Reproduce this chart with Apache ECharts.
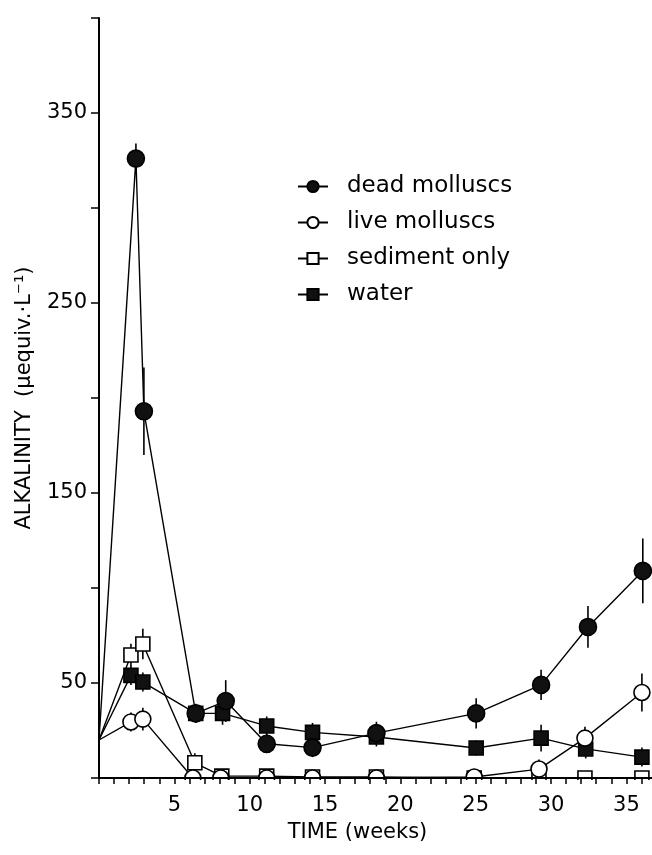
<!DOCTYPE html>
<html>
<head>
<meta charset="utf-8">
<script src="https://cdn.jsdelivr.net/npm/echarts@6/dist/echarts.min.js"></script>
<style>
html,body{margin:0;padding:0;background:#fff;}
#chart{width:652px;height:855px;}
</style>
</head>
<body>
<div id="chart"></div>
<script>
// ---- data (weeks, alkalinity µequiv/L, ± error) ----
const deadWeeks  = [0, 2.45, 2.98, 6.42, 8.41, 11.13, 14.17, 18.41, 25.03, 29.34, 32.45, 36.09];
const deadVals   = [20, 326, 193, 34, 40.5, 18, 16, 23.6, 34, 49, 79.5, 109];
const deadErr    = [0, 8, 23, 5, 11, 5, 5, 6, 8, 8, 11, 17];

const liveWeeks  = [0, 2.12, 2.91, 6.23, 8.08, 11.13, 14.17, 18.41, 24.9, 29.2, 32.25, 36.03];
const liveVals   = [20, 29.5, 31, 0, 0, 0, 0, 0, 0.5, 4.7, 21, 45];
const liveErr    = [0, 5, 6, 0, 0, 0, 0, 0, 0, 5, 6, 10];

const sedWeeks   = [0, 2.12, 2.91, 6.36, 8.15, 11.13, 14.17, 18.41, 24.9, 29.2, 32.25, 36.03];
const sedVals    = [20, 64.7, 70.5, 8, 1, 1, 0.5, 0.5, 0, 0, 0, 0];
const sedErr     = [0, 6, 8, 5, 0, 0, 0, 0, 0, 0, 0, 0];

const waterWeeks = [0, 2.12, 2.91, 6.42, 8.2, 11.13, 14.17, 18.41, 25.03, 29.34, 32.3, 36.03];
const waterVals  = [20, 54, 50.5, 34, 34, 27.4, 24, 21.6, 15.8, 21, 15.3, 11];
const waterErr   = [0, 5, 5, 5, 6, 5, 5, 5, 4, 7, 5, 5];

const seriesNames = ['dead molluscs', 'live molluscs', 'sediment only', 'water'];
const xTickLabels = [5, 10, 15, 20, 25, 30, 35];
const yTickLabels = [50, 150, 250, 350];

// ---- build ----
const FONT = 'DejaVu Sans';
// the common starting value at week 0 is drawn as a line start only (no marker)
function pts(w, v) {
  return w.map((x, i) => (x === 0 ? { value: [x, v[i]], symbol: 'none' } : [x, v[i]]));
}
function errPts(w, v, e) { return w.map((x, i) => [x, v[i] - e[i], v[i] + e[i]]).filter((d, i) => e[i] > 0); }

function errSeries(data) {
  return {
    type: 'custom',
    z: 1,
    silent: true,
    data: data,
    encode: { x: 0, y: [1, 2] },
    renderItem: function (params, api) {
      const lo = api.coord([api.value(0), api.value(1)]);
      const hi = api.coord([api.value(0), api.value(2)]);
      return {
        type: 'line',
        shape: { x1: lo[0], y1: lo[1], x2: hi[0], y2: hi[1] },
        style: { stroke: '#000', lineWidth: 1.6 }
      };
    }
  };
}

function lineSeries(name, data, symbol, size, fill) {
  return {
    name: name,
    type: 'line',
    data: data,
    symbol: symbol,
    symbolSize: size,
    showAllSymbol: true,
    z: 3,
    lineStyle: { color: '#000', width: 1.4 },
    itemStyle: { color: fill, borderColor: '#000', borderWidth: 1.6 },
    emphasis: { disabled: true },
    animation: false
  };
}

const chart = echarts.init(document.getElementById('chart'), null, { renderer: 'canvas' });
chart.setOption({
  animation: false,
  backgroundColor: '#fff',
  grid: { left: 99, right: 0, top: 18, bottom: 77, containLabel: false },
  xAxis: {
    type: 'value', min: 0, max: 36.7, interval: 1, z: 10,
    name: 'TIME (weeks)', nameLocation: 'middle', nameGap: 44,
    nameTextStyle: { fontFamily: FONT, fontSize: 21, color: '#000', padding: [0, 36, 0, 0] },
    axisLine: { show: true, onZero: false, lineStyle: { color: '#000', width: 2 } },
    axisTick: { show: true, length: 6, lineStyle: { color: '#000', width: 1.5 } },
    axisLabel: {
      fontFamily: FONT, fontSize: 21, color: '#000', margin: 17, showMaxLabel: false,
      formatter: v => (xTickLabels.indexOf(v) >= 0 ? String(v) : '')
    },
    splitLine: { show: false }
  },
  yAxis: {
    type: 'value', min: 0, max: 400, interval: 50, z: 10,
    name: 'ALKALINITY  (µequiv.·L⁻¹)', nameLocation: 'middle', nameGap: 64, nameRotate: 90,
    nameTextStyle: { fontFamily: FONT, fontSize: 21, color: '#000' },
    axisLine: { show: true, onZero: false, lineStyle: { color: '#000', width: 2 } },
    axisTick: { show: true, length: 8, lineStyle: { color: '#000', width: 1.5 } },
    axisLabel: {
      fontFamily: FONT, fontSize: 21, color: '#000', margin: 12,
      formatter: v => (yTickLabels.indexOf(v) >= 0 ? String(v) : '')
    },
    splitLine: { show: false }
  },
  legend: {
    orient: 'vertical', left: 292, top: 170, itemGap: 13, itemWidth: 30, itemHeight: 14,
    data: seriesNames,
    textStyle: { fontFamily: FONT, fontSize: 23, color: '#000', padding: [0, 0, 0, 14] },
    selectedMode: false
  },
  graphic: [{
    type: 'rect', z: 5, silent: true,
    shape: { x: 100, y: 780, width: 560, height: 14 },
    style: { fill: '#fff' }
  }],
  series: [
    errSeries(errPts(deadWeeks, deadVals, deadErr)),
    errSeries(errPts(liveWeeks, liveVals, liveErr)),
    errSeries(errPts(sedWeeks, sedVals, sedErr)),
    errSeries(errPts(waterWeeks, waterVals, waterErr)),
    lineSeries(seriesNames[3], pts(waterWeeks, waterVals), 'rect', 14, '#111'),
    lineSeries(seriesNames[2], pts(sedWeeks, sedVals), 'rect', 14, '#fff'),
    lineSeries(seriesNames[1], pts(liveWeeks, liveVals), 'circle', 16, '#fff'),
    lineSeries(seriesNames[0], pts(deadWeeks, deadVals), 'circle', 17, '#111')
  ]
});
</script>
</body>
</html>
